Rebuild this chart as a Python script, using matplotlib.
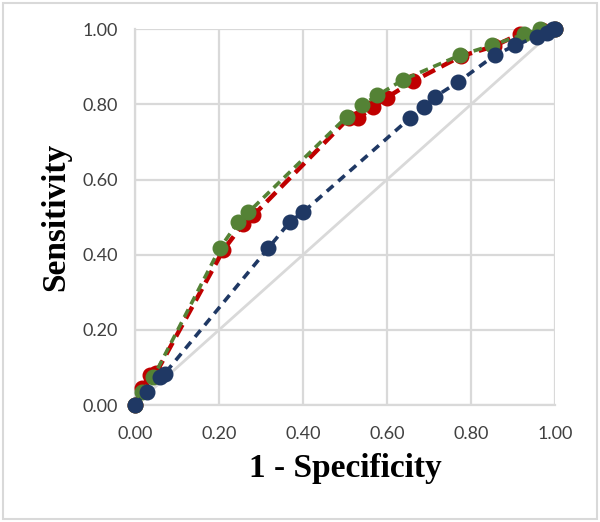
import matplotlib
matplotlib.use("Agg")
import matplotlib.pyplot as plt
from matplotlib.patches import Rectangle

# ROC points (1 - specificity, sensitivity)
red_x = [0.00, 0.016, 0.036, 0.05, 0.21, 0.258, 0.282, 0.510, 0.532, 0.567, 0.599, 0.663, 0.776, 0.855, 0.917, 0.968, 1.00]
red_y = [0.00, 0.045, 0.080, 0.085, 0.412, 0.483, 0.505, 0.765, 0.764, 0.792, 0.818, 0.862, 0.928, 0.955, 0.988, 0.997, 1.00]
green_x = [0.00, 0.016, 0.044, 0.202, 0.246, 0.270, 0.504, 0.540, 0.577, 0.639, 0.774, 0.849, 0.925, 0.964, 1.00]
green_y = [0.00, 0.035, 0.075, 0.417, 0.488, 0.513, 0.767, 0.798, 0.824, 0.866, 0.931, 0.957, 0.986, 1.00, 1.00]
blue_x = [0.00, 0.028, 0.060, 0.071, 0.317, 0.369, 0.401, 0.655, 0.687, 0.714, 0.770, 0.857, 0.905, 0.956, 0.980, 0.996, 1.00]
blue_y = [0.00, 0.035, 0.075, 0.084, 0.417, 0.488, 0.514, 0.764, 0.792, 0.820, 0.860, 0.931, 0.957, 0.980, 0.990, 1.00, 1.00]
ticks = [0.0, 0.2, 0.4, 0.6, 0.8, 1.0]

GRID = "#d9d9d9"
fig = plt.figure(figsize=(6.0, 5.22), dpi=100)
ax = fig.add_axes([0.225, 0.224, 0.70, 0.72])

ax.plot([0, 1], [0, 1], color=GRID, lw=2, zorder=2)
ax.plot(red_x, red_y, color="#c00000", lw=3.2, ls=(0, (3.0, 1.6)), marker="o", ms=10.5,
        zorder=3, clip_on=False)
ax.plot(green_x, green_y, color="#548235", lw=2.6, ls=(0, (2.4, 1.6)), marker="o", ms=10.5,
        zorder=4, clip_on=False)
ax.plot(blue_x, blue_y, color="#1f3864", lw=2.6, ls=(0, (2.4, 1.8)), marker="o", ms=10.5,
        zorder=5, clip_on=False)

ax.set_xlim(0, 1)
ax.set_ylim(0, 1)
ax.set_xticks(ticks)
ax.set_yticks(ticks)
ax.set_xticklabels([f"{t:.2f}" for t in ticks])
ax.set_yticklabels([f"{t:.2f}" for t in ticks])
ax.grid(True, color=GRID, lw=1.6, zorder=1)
ax.set_axisbelow(True)
for s in ax.spines.values():
    s.set_visible(False)
for side in ("left", "bottom"):
    ax.spines[side].set_visible(True)
    ax.spines[side].set_color(GRID)
    ax.spines[side].set_linewidth(1.6)
ax.tick_params(length=0, labelsize=13, labelcolor="#404040")
ax.tick_params(axis="x", pad=15)
ax.tick_params(axis="y", pad=12)
for lab in ax.get_xticklabels() + ax.get_yticklabels():
    lab.set_family("Lato")

ax.set_xlabel("1 - Specificity", family="Liberation Serif", weight="bold", fontsize=24, labelpad=8)
ax.set_ylabel("Sensitivity", family="Liberation Serif", weight="bold", fontsize=24, labelpad=8)

fig.patches.append(Rectangle((0.005, 0.006), 0.99, 0.988, transform=fig.transFigure,
                             fill=False, edgecolor=GRID, lw=1.5))
fig.savefig("out.png", dpi=100)
